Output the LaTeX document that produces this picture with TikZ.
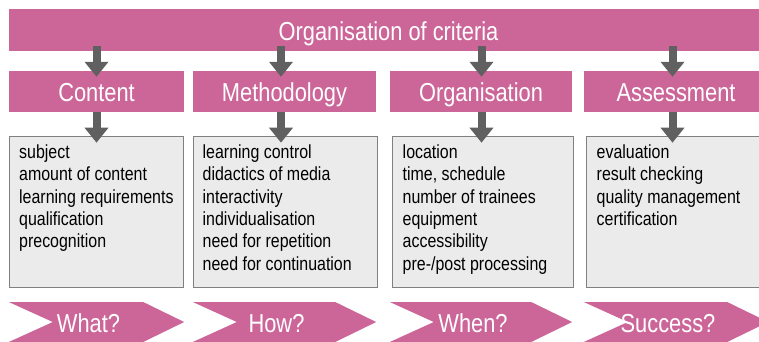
\documentclass[tikz,border=0pt]{standalone}
\usepackage{fontspec}
\setmainfont{Liberation Sans}[FakeStretch=0.84]
\usetikzlibrary{arrows.meta,calc}
\definecolor{critpink}{RGB}{204,102,153}
\definecolor{listgray}{RGB}{235,235,235}
\definecolor{arrowgray}{RGB}{96,96,96}
\tikzstyle{head}=[fill=critpink, text=white, font=\fontsize{26}{28}\selectfont,
  minimum height=41pt, inner sep=0pt, text height=20pt, text depth=0pt]
\tikzstyle{list}=[fill=listgray, draw=gray, line width=1pt,
  minimum height=151pt, inner sep=0pt]
\tikzstyle{items}=[align=left, anchor=north west, inner sep=0pt,
  font=\fontsize{19}{22.3}\selectfont]
\tikzstyle{down}=[-{Triangle[width=23pt,length=15pt]}, line width=8pt, draw=arrowgray]
\tikzstyle{chev}=[fill=critpink]
\tikzstyle{ask}=[text=white, font=\fontsize{26}{28}\selectfont, inner sep=0pt,
  text height=20pt, text depth=0pt]

\begin{document}
\begin{tikzpicture}[x=1pt,y=-1pt]
  \useasboundingbox (0,0) rectangle (759,341);

  \node(crit)[head, minimum width=759pt, minimum height=42pt] at (388.5,30)
  {Organisation of criteria};

  \node(content)[head, minimum width=175pt] at (96.5,91.5){Content};
  \path(content.center)+(188,0) node(method)[head, minimum width=183pt]{Methodology};
  \path(method.center)+(196.5,0) node(orga)[head, minimum width=182pt]{Organisation};
  \path(orga.center)+(195,0) node(assess)[head, minimum width=184pt]{Assessment};

  \path(content.south)+(0,99.5) node(content list)[list, minimum width=174pt]{};
  \path(method.south)+(0.5,99.5) node(method list)[list, minimum width=184pt]{};
  \path(orga.south)+(1.5,99.5) node(orga list)[list, minimum width=181pt]{};
  \path(assess.south)+(1,99.5) node(assess list)[list, minimum width=182pt]{};

  \path(content list.north west)+(10,9) node(content items)[items]{
    subject\\
    amount of content\\
    learning requirements\\
    qualification\\
    precognition
  };
  \path(method list.north west)+(10,9) node(method items)[items]{
    learning control\\
    didactics of media\\
    interactivity\\
    individualisation\\
    need for repetition\\
    need for continuation
  };
  \path(orga list.north west)+(11,9) node(orga items)[items]{
    location\\
    time, schedule\\
    number of trainees\\
    equipment\\
    accessibility\\
    pre-/post processing
  };
  \path(assess list.north west)+(11,9) node(assess items)[items]{
    evaluation\\
    result checking\\
    quality management\\
    certification
  };

  % arrows from the criteria down to the lists
  \foreach \h/\dx in {content/0,method/-3.5,orga/0.5,assess/-3.5}{
    \draw[down] ([xshift=\dx pt, yshift=5pt]crit.south -| \h.north)
      -- ([xshift=\dx pt, yshift=-6pt]\h.north);
    \draw[down] ([xshift=\dx pt]\h.south)
      -- ([xshift=\dx pt, yshift=-7pt]\h\space list.north -| \h.south);
  }

  % question chevrons
  \foreach \h/\q/\w in {content/What?/what, method/How?/how,
    orga/When?/when, assess/Success?/success}{
    \fill[chev] let \p1=(\h.west), \p2=(\h.east) in
      (\x1,-302pt) -- (\x2-41pt,-302pt) -- (\x2,-322pt) -- (\x2-41pt,-342pt)
      -- (\x1,-342pt) -- (\x1+44pt,-322pt) -- cycle;
    \path(\h.center |- 0,322)+(-8,0) node(\w)[ask]{\q};
  }
\end{tikzpicture}
\end{document}
